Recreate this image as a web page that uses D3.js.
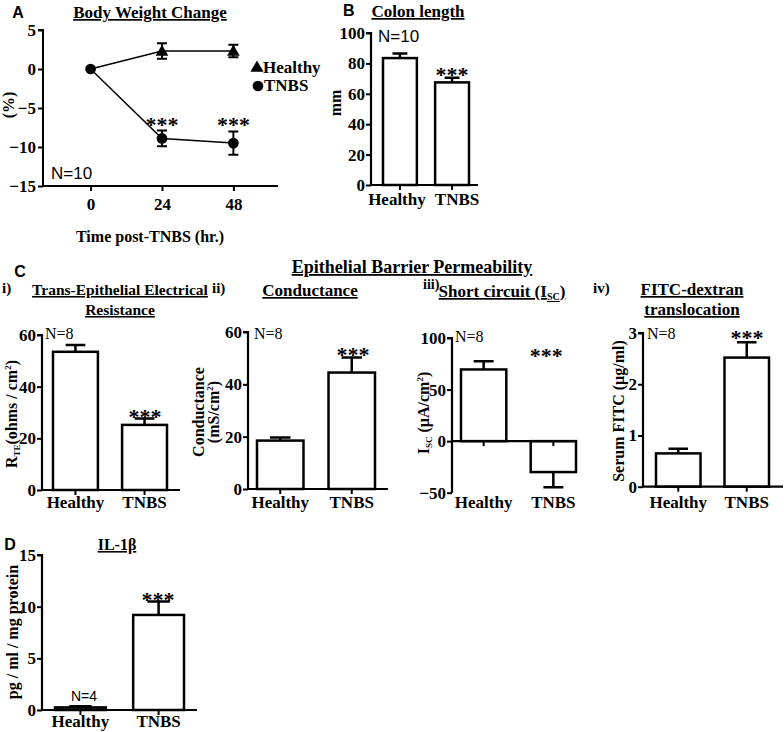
<!DOCTYPE html>
<html><head><meta charset="utf-8">
<script src="https://cdn.jsdelivr.net/npm/d3@7"></script>
<style>
body{margin:0;background:#fff;}
text{fill:#000;}
.serif{font-family:"Liberation Serif","Times New Roman",serif;font-weight:bold;}
.sans{font-family:"Liberation Sans",Arial,sans-serif;}
.serifr{font-family:"Liberation Serif","Times New Roman",serif;}
</style></head>
<body>
<svg id="c" width="784" height="732"></svg>
<script>
// ---- data ----
const timePoints = [0, 24, 48];
const healthyWeight = [0, 2.3, 2.3];
const healthyWeightErr = [0, 1.0, 0.8];
const tnbsWeight = [0, -8.9, -9.5];
const tnbsWeightErr = [0, 1.0, 1.5];
const weightTicks = [5, 0, -5, -10, -15];

const groups = ["Healthy", "TNBS"];
const colonLength = [83.5, 67.5];
const colonLengthErr = [3, 3];
const teer = [53.5, 25.2];
const teerErr = [2.6, 2.5];
const conductance = [18.5, 44.5];
const conductanceErr = [1.2, 5.8];
const isc = [69.5, -30];
const iscErr = [8, 14.6];
const fitc = [0.65, 2.52];
const fitcErr = [0.09, 0.3];
const il1b = [0.25, 9.2];
const il1bErr = [0.12, 1.3];

const svg = d3.select("#c");
const SER = "serif", SAN = "sans", SERR = "serifr";
const TICK = 17, LAB = 17;

function txt(x, y, s, cls, size, anchor, extra) {
  const t = svg.append("text").attr("x", x).attr("y", y).attr("class", cls)
    .attr("font-size", size).attr("text-anchor", anchor || "start").text(s);
  if (extra) extra(t);
  return t;
}
function underline(t){ t.attr("text-decoration","underline"); }
function stars(x, capY, off) { return txt(x, capY + off, "***", SER, 22, "middle"); }

// ---------- Panel A: line chart ----------
{
  const x = d3.scaleLinear().domain([-16, 63]).range([43, 278]);
  const y = d3.scaleLinear().domain([-15, 5]).range([186, 30]);
  const g = svg.append("g");
  const ya = g.append("g").attr("transform", "translate(43,0)")
    .call(d3.axisLeft(y).tickValues(weightTicks).tickFormat(d3.format("d")).tickSize(5).tickPadding(2));
  const xa = g.append("g").attr("transform", "translate(0,186)")
    .call(d3.axisBottom(x).tickValues(timePoints).tickFormat(d3.format("d")).tickSize(5).tickPadding(7));
  [ya, xa].forEach(a => {
    a.select(".domain").attr("stroke-width", 2).attr("stroke", "#000");
    a.selectAll(".tick line").attr("stroke-width", 2);
    a.selectAll(".tick text").attr("class", SER).attr("font-size", TICK).attr("fill", "#000");
  });
  xa.select(".domain").attr("d", `M43,0H278`);
  ya.select(".domain").attr("d", `M-5,${y(5)}H0V${y(-15)}`);

  const line = d3.line().x((d, i) => x(timePoints[i])).y(d => y(d));
  const series = [
    {v: healthyWeight, e: healthyWeightErr, sym: d3.symbolTriangle, size: 70},
    {v: tnbsWeight, e: tnbsWeightErr, sym: d3.symbolCircle, size: 90}
  ];
  series.forEach(s => {
    g.append("path").attr("d", line(s.v)).attr("fill", "none").attr("stroke", "#000").attr("stroke-width", 1.5);
    s.v.forEach((v, i) => {
      if (s.e[i] > 0) {
        const cx = x(timePoints[i]);
        g.append("path").attr("d",
          `M${cx},${y(v + s.e[i])}V${y(v - s.e[i])}M${cx-5},${y(v + s.e[i])}H${cx+5}M${cx-5},${y(v - s.e[i])}H${cx+5}`)
          .attr("stroke", "#000").attr("stroke-width", 2).attr("fill", "none");
      }
    });
  });
  series.forEach(s => {
    s.v.forEach((v, i) => {
      if (i === 0 && s.sym === d3.symbolTriangle) return;
      g.append("path").attr("d", d3.symbol(s.sym, s.size)())
        .attr("transform", `translate(${x(timePoints[i])},${y(v) + (s.sym === d3.symbolTriangle ? 1 : 0)})`);
    });
  });
  [1, 2].forEach(i => stars(x(timePoints[i]), y(tnbsWeight[i] + tnbsWeightErr[i]), 1));
  // legend
  g.append("path").attr("d", d3.symbol(d3.symbolTriangle, 75)()).attr("transform", "translate(257,68)");
  txt(263, 73, "Healthy", SER, 17);
  g.append("path").attr("d", d3.symbol(d3.symbolCircle, 90)()).attr("transform", "translate(258,86)");
  txt(264, 91, "TNBS", SER, 17);

  txt(51, 179, "N=10", SAN, 17);
  txt(18, 18, "A", SAN, 16, "middle", t => t.attr("font-weight", "bold"));
  txt(150, 18, "Body Weight Change", SER, 17, "middle", underline);
  txt(150, 242, "Time post-TNBS (hr.)", SER, 16, "middle");
  txt(0, 0, "(%)", SER, 16, "middle", t => t.attr("transform", "translate(14,105) rotate(-90)"));
}

// ---------- bar panel helper ----------
function barPanel(o) {
  const y = d3.scaleLinear().domain(o.domain).range(o.yRange);
  const xb = d3.scaleBand().domain(groups).range(o.bandRange).paddingInner(0.35).paddingOuter(0);
  const g = svg.append("g");
  const y0 = y(0);
  o.values.forEach((v, i) => {
    const bx = xb(groups[i]), bw = xb.bandwidth();
    const top = Math.min(y(v), y0), h = Math.abs(y(v) - y0);
    const cx = bx + bw / 2;
    const ev = v >= 0 ? v + o.errs[i] : v - o.errs[i];
    g.append("path").attr("d", `M${cx},${y(v)}V${y(ev)}M${cx - bw*0.22},${y(ev)}H${cx + bw*0.22}`)
      .attr("stroke", "#000").attr("stroke-width", 2.5).attr("fill", "none");
    g.append("rect").attr("x", bx).attr("y", top).attr("width", bw).attr("height", h)
      .attr("fill", "#fff").attr("stroke", "#000").attr("stroke-width", 2.5);
    g.append("line").attr("x1", cx).attr("x2", cx).attr("y1", y0).attr("y2", y0 + 5)
      .attr("stroke", "#000").attr("stroke-width", 2);
    txt(cx + (o.labelShift ? o.labelShift[i] : 0), o.labelY, groups[i], SER, LAB, "middle");
  });
  const ya = g.append("g").attr("transform", `translate(${o.axisX},0)`)
    .call(d3.axisLeft(y).tickValues(o.ticks).tickFormat(d3.format("d")).tickSize(5).tickPadding(1));
  ya.select(".domain").attr("stroke-width", 2.2).attr("stroke", "#000")
    .attr("d", `M-5,${y(o.domain[1])}H0V${y(o.domain[0])}`);
  ya.selectAll(".tick line").attr("stroke-width", 2);
  ya.selectAll(".tick text").attr("class", SER).attr("font-size", TICK).attr("fill", "#000");
  g.append("line").attr("x1", o.axisX).attr("x2", o.xEnd).attr("y1", y0).attr("y2", y0)
    .attr("stroke", "#000").attr("stroke-width", 2.2);
  return {y, xb};
}

// ---------- Panel B ----------
{
  const r = barPanel({domain: [0, 100], yRange: [185, 33], bandRange: [383, 469], axisX: 371, xEnd: 478,
    values: colonLength, errs: colonLengthErr, ticks: [0, 20, 40, 60, 80, 100], labelY: 205, labelShift: [-3, 5]});
  stars(452, r.y(colonLength[1] + colonLengthErr[1]), 4);
  txt(378, 42, "N=10", SAN, 17);
  txt(343, 16, "B", SAN, 16, "start", t => t.attr("font-weight", "bold"));
  txt(418, 17, "Colon length", SER, 17, "middle", underline);
  txt(0, 0, "mm", SER, 16, "middle", t => t.attr("transform", "translate(341,103) rotate(-90)"));
}

// ---------- Panel C ----------
txt(20, 277, "C", SAN, 16, "middle", t => t.attr("font-weight", "bold"));
txt(412, 273, "Epithelial Barrier Permeability", SER, 18, "middle", underline);

// C i
{
  const r = barPanel({domain: [0, 60], yRange: [490, 335], bandRange: [53, 167], axisX: 42, xEnd: 180,
    values: teer, errs: teerErr, ticks: [0, 20, 40, 60], labelY: 508});
  stars(145, r.y(teer[1] + teerErr[1]), 6);
  txt(45, 339, "N=8", SERR, 16);
  txt(2, 293, "i)", SER, 15);
  txt(120, 295, "Trans-Epithelial Electrical", SER, 15.5, "middle", underline);
  txt(120, 315, "Resistance", SER, 15.5, "middle", underline);
  const t = txt(0, 0, "", SER, 16, "middle", t => t.attr("transform", "translate(17,414) rotate(-90)"));
  t.append("tspan").text("R");
  t.append("tspan").attr("font-size", 9).attr("dy", 3).text("TE");
  t.append("tspan").attr("dy", -3).text("(ohms / cm");
  t.append("tspan").attr("font-size", 9).attr("dy", -6).text("2");
  t.append("tspan").attr("dy", 6).text(")");
}
// C ii
{
  const r = barPanel({domain: [0, 60], yRange: [489, 332], bandRange: [257, 375], axisX: 248, xEnd: 388,
    values: conductance, errs: conductanceErr, ticks: [0, 20, 40, 60], labelY: 508});
  stars(353, r.y(conductance[1] + conductanceErr[1]), 5);
  txt(254, 339, "N=8", SERR, 16);
  txt(212, 293, "ii)", SER, 15);
  txt(310, 296, "Conductance", SER, 17, "middle", underline);
  txt(0, 0, "Conductance", SER, 16, "middle", t => t.attr("transform", "translate(204,412) rotate(-90)"));
  const t = txt(0, 0, "", SER, 16, "middle", t => t.attr("transform", "translate(219,412) rotate(-90)"));
  t.append("tspan").text("(mS/cm");
  t.append("tspan").attr("font-size", 9).attr("dy", -6).text("2");
  t.append("tspan").attr("dy", 6).text(")");
}
// C iii
{
  const r = barPanel({domain: [-50, 100], yRange: [492.7, 338], bandRange: [461, 576], axisX: 452, xEnd: 577,
    values: isc, errs: iscErr, ticks: [-50, 0, 50, 100], labelY: 508});
  // significance marker sits at the top of the plot, above the TNBS bar
  stars(r.xb("TNBS") + r.xb.bandwidth() / 2 - 7, r.y(81), 5);
  txt(455, 342, "N=8", SERR, 16);
  txt(423, 289, "iii)", SER, 14);
  const h = txt(502, 297, "", SER, 17, "middle", underline);
  h.append("tspan").text("Short circuit (I");
  h.append("tspan").attr("font-size", 10).attr("dy", 3).text("SC");
  h.append("tspan").attr("dy", -3).text(")");
  const t = txt(0, 0, "", SER, 16, "middle", t => t.attr("transform", "translate(429,413) rotate(-90)"));
  t.append("tspan").text("I");
  t.append("tspan").attr("font-size", 9).attr("dy", 3).text("SC");
  t.append("tspan").attr("dy", -3).text(" (µA/cm");
  t.append("tspan").attr("font-size", 9).attr("dy", -6).text("2");
  t.append("tspan").attr("dy", 6).text(")");
}
// C iv
{
  const r = barPanel({domain: [0, 3], yRange: [486.7, 333], bandRange: [656, 769], axisX: 643, xEnd: 783,
    values: fitc, errs: fitcErr, ticks: [0, 1, 2, 3], labelY: 508});
  stars(747, r.y(fitc[1] + fitcErr[1]), 3);
  txt(647, 339, "N=8", SERR, 16);
  txt(593, 293, "iv)", SER, 15);
  txt(692, 295, "FITC-dextran", SER, 17, "middle", underline);
  txt(692, 315, "translocation", SER, 17, "middle", underline);
  txt(0, 0, "Serum FITC (µg/ml)", SER, 16, "middle", t => t.attr("transform", "translate(624,411) rotate(-90)"));
}

// ---------- Panel D ----------
{
  const r = barPanel({domain: [0, 15], yRange: [710, 555], bandRange: [55, 184], axisX: 42, xEnd: 197,
    values: il1b, errs: il1bErr, ticks: [0, 5, 10, 15], labelY: 727});
  stars(158, r.y(il1b[1] + il1bErr[1]), 5);
  txt(84, 701, "N=4", SAN, 14, "middle");
  txt(10, 550, "D", SAN, 16, "middle", t => t.attr("font-weight", "bold"));
  txt(117, 550, "IL-1β", SER, 16, "middle", underline);
  txt(0, 0, "pg / ml / mg protein", SER, 16, "middle", t => t.attr("transform", "translate(18,632) rotate(-90)"));
}
</script>
</body></html>
